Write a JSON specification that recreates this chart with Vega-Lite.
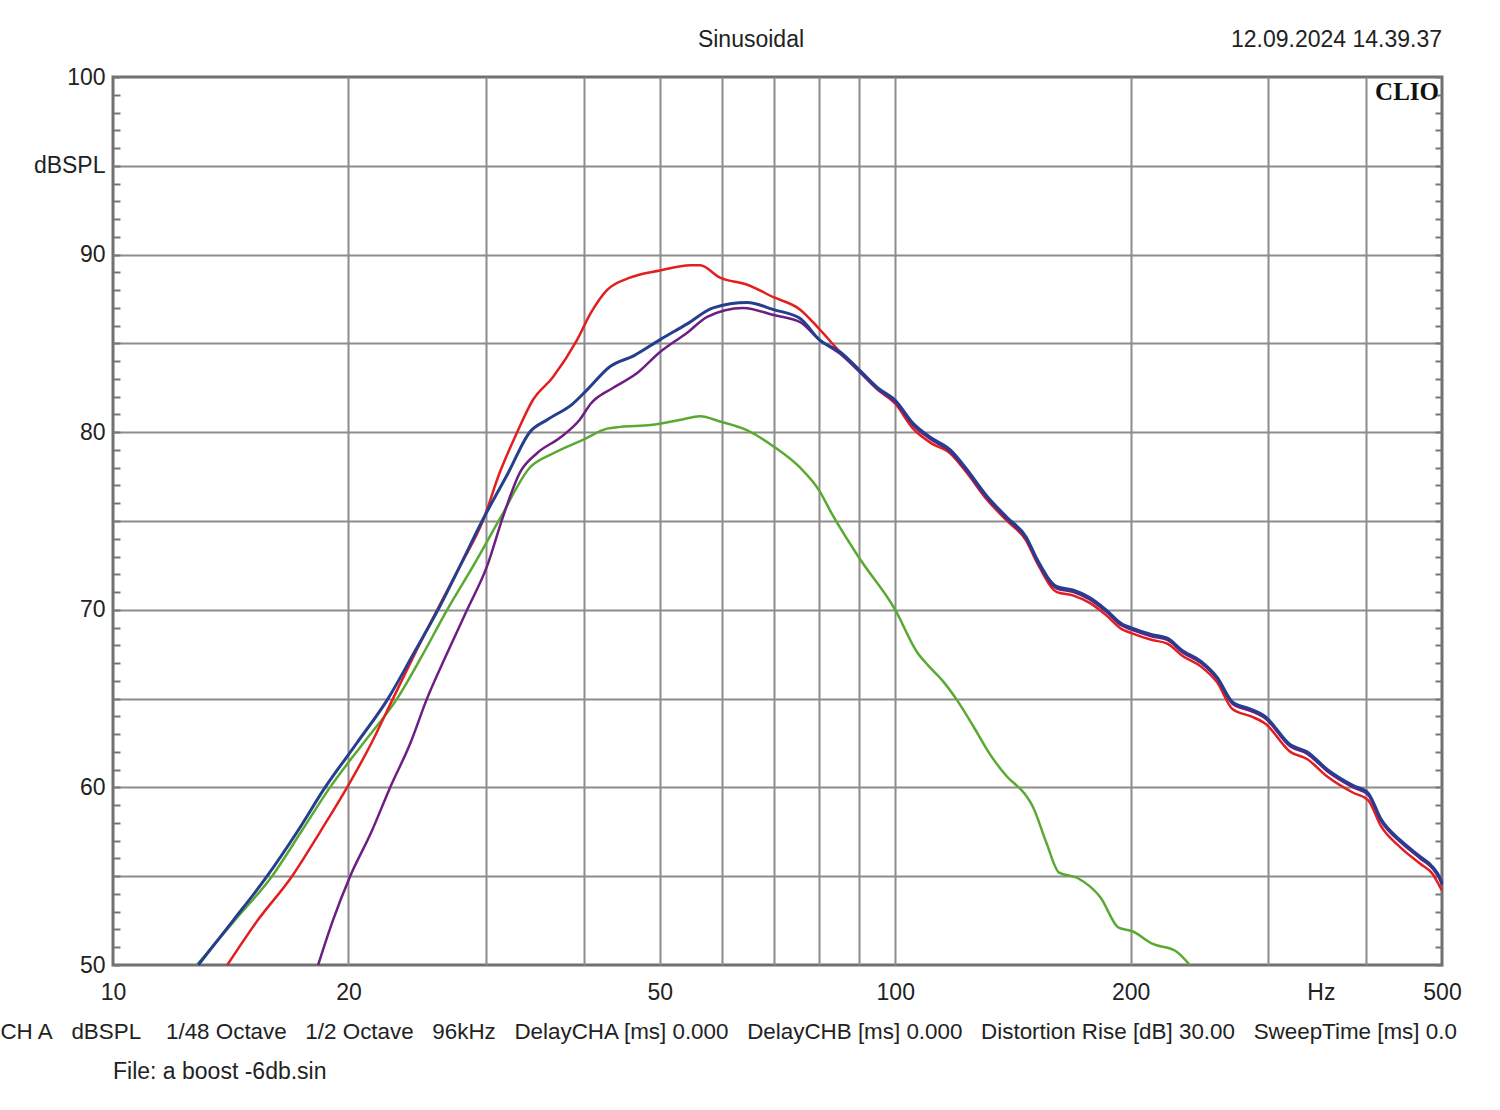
{
  "$schema": "https://vega.github.io/schema/vega-lite/v6.json",
  "width": 1329,
  "height": 888,
  "autosize": {"type": "none"},
  "padding": {"left": 113, "top": 77, "right": 58, "bottom": 145},
  "background": "white",
  "config": {
    "view": {"stroke": "#707070", "strokeWidth": 3},
    "font": "Liberation Sans"
  },
  "datasets": {
    "curves": [
      {"series": "green", "f": 12.8, "spl": 50}, {"series": "green", "f": 14.3, "spl": 52.5}, {"series": "green", "f": 15.97, "spl": 55}, {"series": "green", "f": 17.4, "spl": 57.5}, {"series": "green", "f": 18.94, "spl": 60}, {"series": "green", "f": 20.9, "spl": 62.5}, {"series": "green", "f": 23.08, "spl": 65}, {"series": "green", "f": 24.9, "spl": 67.5}, {"series": "green", "f": 26.74, "spl": 70}, {"series": "green", "f": 28.9, "spl": 72.5}, {"series": "green", "f": 31.3, "spl": 75.2}, {"series": "green", "f": 34.1, "spl": 78.0}, {"series": "green", "f": 36.5, "spl": 78.8}, {"series": "green", "f": 40, "spl": 79.6}, {"series": "green", "f": 42.8, "spl": 80.2}, {"series": "green", "f": 44.5, "spl": 80.3}, {"series": "green", "f": 48.7, "spl": 80.4}, {"series": "green", "f": 53.2, "spl": 80.7}, {"series": "green", "f": 56.3, "spl": 80.9}, {"series": "green", "f": 59.7, "spl": 80.6}, {"series": "green", "f": 64.7, "spl": 80.1}, {"series": "green", "f": 69.9, "spl": 79.2}, {"series": "green", "f": 75.6, "spl": 78.0}, {"series": "green", "f": 80, "spl": 76.7}, {"series": "green", "f": 83, "spl": 75.4}, {"series": "green", "f": 90, "spl": 72.9}, {"series": "green", "f": 100, "spl": 70.0}, {"series": "green", "f": 106.7, "spl": 67.6}, {"series": "green", "f": 110, "spl": 66.9}, {"series": "green", "f": 115, "spl": 66.0}, {"series": "green", "f": 120, "spl": 64.9}, {"series": "green", "f": 126, "spl": 63.4}, {"series": "green", "f": 132, "spl": 61.9}, {"series": "green", "f": 139, "spl": 60.6}, {"series": "green", "f": 146, "spl": 59.7}, {"series": "green", "f": 150, "spl": 58.9}, {"series": "green", "f": 156, "spl": 56.9}, {"series": "green", "f": 162, "spl": 55.2}, {"series": "green", "f": 171, "spl": 54.9}, {"series": "green", "f": 183, "spl": 53.8}, {"series": "green", "f": 193, "spl": 52.1}, {"series": "green", "f": 201, "spl": 51.9}, {"series": "green", "f": 213, "spl": 51.2}, {"series": "green", "f": 228, "spl": 50.8}, {"series": "green", "f": 238, "spl": 50.0},

      {"series": "red", "f": 14.0, "spl": 50}, {"series": "red", "f": 15.3, "spl": 52.5}, {"series": "red", "f": 16.94, "spl": 55}, {"series": "red", "f": 18.4, "spl": 57.5}, {"series": "red", "f": 19.92, "spl": 60}, {"series": "red", "f": 21.4, "spl": 62.5}, {"series": "red", "f": 22.8, "spl": 65}, {"series": "red", "f": 24.3, "spl": 67.5}, {"series": "red", "f": 25.97, "spl": 70}, {"series": "red", "f": 27.8, "spl": 72.5}, {"series": "red", "f": 29.7, "spl": 75}, {"series": "red", "f": 31.2, "spl": 77.7}, {"series": "red", "f": 32.86, "spl": 80}, {"series": "red", "f": 34.4, "spl": 81.8}, {"series": "red", "f": 36.5, "spl": 83.1}, {"series": "red", "f": 39.2, "spl": 85.2}, {"series": "red", "f": 40.8, "spl": 86.7}, {"series": "red", "f": 42.8, "spl": 88.0}, {"series": "red", "f": 45.8, "spl": 88.7}, {"series": "red", "f": 50, "spl": 89.1}, {"series": "red", "f": 54.7, "spl": 89.4}, {"series": "red", "f": 56.3, "spl": 89.4}, {"series": "red", "f": 59.7, "spl": 88.7}, {"series": "red", "f": 64.7, "spl": 88.3}, {"series": "red", "f": 69.9, "spl": 87.6}, {"series": "red", "f": 75.6, "spl": 86.9}, {"series": "red", "f": 80, "spl": 85.8}, {"series": "red", "f": 85.1, "spl": 84.5}, {"series": "red", "f": 90, "spl": 83.5}, {"series": "red", "f": 95, "spl": 82.4}, {"series": "red", "f": 100, "spl": 81.6}, {"series": "red", "f": 105.4, "spl": 80.2}, {"series": "red", "f": 111, "spl": 79.4}, {"series": "red", "f": 117.6, "spl": 78.8}, {"series": "red", "f": 123, "spl": 77.8}, {"series": "red", "f": 131, "spl": 76.2}, {"series": "red", "f": 139, "spl": 75.0}, {"series": "red", "f": 147, "spl": 73.9}, {"series": "red", "f": 152, "spl": 72.6}, {"series": "red", "f": 161, "spl": 71.0}, {"series": "red", "f": 169, "spl": 70.8}, {"series": "red", "f": 177, "spl": 70.4}, {"series": "red", "f": 186, "spl": 69.7}, {"series": "red", "f": 195, "spl": 68.9}, {"series": "red", "f": 200, "spl": 68.7}, {"series": "red", "f": 213, "spl": 68.3}, {"series": "red", "f": 222.7, "spl": 68.1}, {"series": "red", "f": 233, "spl": 67.4}, {"series": "red", "f": 246, "spl": 66.8}, {"series": "red", "f": 258, "spl": 65.9}, {"series": "red", "f": 270, "spl": 64.4}, {"series": "red", "f": 285, "spl": 64.0}, {"series": "red", "f": 297, "spl": 63.6}, {"series": "red", "f": 320, "spl": 62.0}, {"series": "red", "f": 336, "spl": 61.6}, {"series": "red", "f": 357, "spl": 60.6}, {"series": "red", "f": 385, "spl": 59.7}, {"series": "red", "f": 402, "spl": 59.3}, {"series": "red", "f": 418, "spl": 57.8}, {"series": "red", "f": 443, "spl": 56.6}, {"series": "red", "f": 469, "spl": 55.7}, {"series": "red", "f": 487, "spl": 55.1}, {"series": "red", "f": 497, "spl": 54.4}, {"series": "red", "f": 500, "spl": 54.2},

      {"series": "purple", "f": 18.29, "spl": 50}, {"series": "purple", "f": 19.1, "spl": 52.5}, {"series": "purple", "f": 20.1, "spl": 55}, {"series": "purple", "f": 21.4, "spl": 57.5}, {"series": "purple", "f": 22.61, "spl": 60}, {"series": "purple", "f": 24.0, "spl": 62.5}, {"series": "purple", "f": 25.2, "spl": 65}, {"series": "purple", "f": 26.7, "spl": 67.5}, {"series": "purple", "f": 28.36, "spl": 70}, {"series": "purple", "f": 30.1, "spl": 72.5}, {"series": "purple", "f": 31.5, "spl": 75.2}, {"series": "purple", "f": 33.1, "spl": 77.7}, {"series": "purple", "f": 34.8, "spl": 78.8}, {"series": "purple", "f": 37.3, "spl": 79.7}, {"series": "purple", "f": 39.5, "spl": 80.7}, {"series": "purple", "f": 40.8, "spl": 81.6}, {"series": "purple", "f": 43.6, "spl": 82.5}, {"series": "purple", "f": 46.7, "spl": 83.3}, {"series": "purple", "f": 50, "spl": 84.5}, {"series": "purple", "f": 54.2, "spl": 85.6}, {"series": "purple", "f": 57.5, "spl": 86.5}, {"series": "purple", "f": 63.9, "spl": 87.0}, {"series": "purple", "f": 69.9, "spl": 86.6}, {"series": "purple", "f": 75.6, "spl": 86.2}, {"series": "purple", "f": 80, "spl": 85.2}, {"series": "purple", "f": 85.1, "spl": 84.4}, {"series": "purple", "f": 90, "spl": 83.4}, {"series": "purple", "f": 95, "spl": 82.4}, {"series": "purple", "f": 100, "spl": 81.7}, {"series": "purple", "f": 105.4, "spl": 80.4}, {"series": "purple", "f": 111, "spl": 79.6}, {"series": "purple", "f": 117.6, "spl": 78.9}, {"series": "purple", "f": 123, "spl": 77.9}, {"series": "purple", "f": 131, "spl": 76.3}, {"series": "purple", "f": 139, "spl": 75.1}, {"series": "purple", "f": 147, "spl": 74.0}, {"series": "purple", "f": 152, "spl": 72.7}, {"series": "purple", "f": 161, "spl": 71.2}, {"series": "purple", "f": 169, "spl": 71.0}, {"series": "purple", "f": 177, "spl": 70.6}, {"series": "purple", "f": 186, "spl": 69.9}, {"series": "purple", "f": 195, "spl": 69.1}, {"series": "purple", "f": 200, "spl": 68.9}, {"series": "purple", "f": 213, "spl": 68.5}, {"series": "purple", "f": 222.7, "spl": 68.3}, {"series": "purple", "f": 233, "spl": 67.6}, {"series": "purple", "f": 246, "spl": 67.0}, {"series": "purple", "f": 258, "spl": 66.1}, {"series": "purple", "f": 270, "spl": 64.7}, {"series": "purple", "f": 285, "spl": 64.3}, {"series": "purple", "f": 297, "spl": 63.9}, {"series": "purple", "f": 320, "spl": 62.3}, {"series": "purple", "f": 336, "spl": 61.9}, {"series": "purple", "f": 357, "spl": 60.9}, {"series": "purple", "f": 385, "spl": 60.0}, {"series": "purple", "f": 402, "spl": 59.6}, {"series": "purple", "f": 418, "spl": 58.1}, {"series": "purple", "f": 443, "spl": 56.9}, {"series": "purple", "f": 469, "spl": 56.0}, {"series": "purple", "f": 487, "spl": 55.4}, {"series": "purple", "f": 497, "spl": 54.8}, {"series": "purple", "f": 500, "spl": 54.5},

      {"series": "blue", "f": 12.85, "spl": 50}, {"series": "blue", "f": 14.24, "spl": 52.5}, {"series": "blue", "f": 15.74, "spl": 55}, {"series": "blue", "f": 17.2, "spl": 57.5}, {"series": "blue", "f": 18.67, "spl": 60}, {"series": "blue", "f": 20.5, "spl": 62.5}, {"series": "blue", "f": 22.47, "spl": 65}, {"series": "blue", "f": 24.2, "spl": 67.5}, {"series": "blue", "f": 26.03, "spl": 70}, {"series": "blue", "f": 27.8, "spl": 72.5}, {"series": "blue", "f": 29.64, "spl": 75}, {"series": "blue", "f": 32.0, "spl": 77.7}, {"series": "blue", "f": 34.1, "spl": 80}, {"series": "blue", "f": 35.9, "spl": 80.7}, {"series": "blue", "f": 38.7, "spl": 81.6}, {"series": "blue", "f": 40.4, "spl": 82.4}, {"series": "blue", "f": 43.2, "spl": 83.7}, {"series": "blue", "f": 46.3, "spl": 84.3}, {"series": "blue", "f": 50, "spl": 85.2}, {"series": "blue", "f": 54.2, "spl": 86.1}, {"series": "blue", "f": 58.5, "spl": 87.0}, {"series": "blue", "f": 64.7, "spl": 87.3}, {"series": "blue", "f": 69.9, "spl": 86.9}, {"series": "blue", "f": 75.6, "spl": 86.4}, {"series": "blue", "f": 80, "spl": 85.2}, {"series": "blue", "f": 85.1, "spl": 84.5}, {"series": "blue", "f": 90, "spl": 83.5}, {"series": "blue", "f": 95, "spl": 82.5}, {"series": "blue", "f": 100, "spl": 81.8}, {"series": "blue", "f": 105.4, "spl": 80.5}, {"series": "blue", "f": 111, "spl": 79.7}, {"series": "blue", "f": 117.6, "spl": 79.0}, {"series": "blue", "f": 123, "spl": 78.0}, {"series": "blue", "f": 131, "spl": 76.4}, {"series": "blue", "f": 139, "spl": 75.2}, {"series": "blue", "f": 147, "spl": 74.1}, {"series": "blue", "f": 152, "spl": 72.8}, {"series": "blue", "f": 161, "spl": 71.3}, {"series": "blue", "f": 169, "spl": 71.1}, {"series": "blue", "f": 177, "spl": 70.7}, {"series": "blue", "f": 186, "spl": 70.0}, {"series": "blue", "f": 195, "spl": 69.2}, {"series": "blue", "f": 200, "spl": 69.0}, {"series": "blue", "f": 213, "spl": 68.6}, {"series": "blue", "f": 222.7, "spl": 68.4}, {"series": "blue", "f": 233, "spl": 67.7}, {"series": "blue", "f": 246, "spl": 67.1}, {"series": "blue", "f": 258, "spl": 66.2}, {"series": "blue", "f": 270, "spl": 64.8}, {"series": "blue", "f": 285, "spl": 64.4}, {"series": "blue", "f": 297, "spl": 64.0}, {"series": "blue", "f": 320, "spl": 62.4}, {"series": "blue", "f": 336, "spl": 62.0}, {"series": "blue", "f": 357, "spl": 61.0}, {"series": "blue", "f": 385, "spl": 60.1}, {"series": "blue", "f": 402, "spl": 59.7}, {"series": "blue", "f": 418, "spl": 58.2}, {"series": "blue", "f": 443, "spl": 57.0}, {"series": "blue", "f": 469, "spl": 56.1}, {"series": "blue", "f": 487, "spl": 55.5}, {"series": "blue", "f": 497, "spl": 54.9}, {"series": "blue", "f": 500, "spl": 54.6}
    ]
  },
  "resolve": {"axis": {"x": "independent", "y": "independent"}},
  "layer": [
    {
      "data": {"name": "curves"},
      "transform": [{"filter": "datum.series === 'green'"}],
      "mark": {"type": "line", "stroke": "#5aaa32", "strokeWidth": 2.5, "interpolate": "monotone"},
      "encoding": {
        "x": {
          "field": "f", "type": "quantitative",
          "scale": {"type": "log", "domain": [10, 500], "nice": false},
          "axis": {
            "orient": "bottom",
            "values": [10, 20, 30, 40, 50, 60, 70, 80, 90, 100, 200, 300, 350, 400, 500],
            "title": null, "domain": false, "ticks": false, "tickSize": 0,
            "grid": true, "gridColor": "#8c8c8c", "gridWidth": 2,
            "gridOpacity": {"condition": {"test": "datum.value == 350 || datum.value == 10 || datum.value == 500", "value": 0}, "value": 1},
            "format": "d",
            "labelExpr": "indexof([10,20,50,100,200,500], datum.value) >= 0 ? datum.label : (datum.value == 350 ? 'Hz' : '')",
            "labelFlush": false, "labelOverlap": false, "labelBound": false,
            "labelFont": "Liberation Sans", "labelFontSize": 23, "labelColor": "#222222", "labelPadding": 16
          }
        },
        "y": {
          "field": "spl", "type": "quantitative",
          "scale": {"domain": [50, 100], "nice": false, "zero": false},
          "axis": {
            "orient": "left",
            "values": [50,51,52,53,54,55,56,57,58,59,60,61,62,63,64,65,66,67,68,69,70,71,72,73,74,75,76,77,78,79,80,81,82,83,84,85,86,87,88,89,90,91,92,93,94,95,96,97,98,99,100],
            "title": null, "domain": false,
            "grid": true, "gridColor": "#8c8c8c", "gridWidth": 2,
            "gridOpacity": {"condition": {"test": "datum.value % 5 == 0 && datum.value > 50 && datum.value < 100", "value": 1}, "value": 0},
            "ticks": true, "tickSize": -7, "tickColor": "#777777", "tickWidth": 2,
            "format": "d",
            "labelExpr": "datum.value == 95 ? 'dBSPL' : (datum.value % 10 == 0 ? datum.label : '')",
            "labelFlush": false, "labelOverlap": false, "labelBound": false,
            "labelFont": "Liberation Sans", "labelFontSize": 23, "labelColor": "#222222", "labelPadding": 15
          }
        }
      }
    },
    {
      "data": {"name": "curves"},
      "transform": [{"filter": "datum.series === 'red'"}],
      "mark": {"type": "line", "stroke": "#e41e1e", "strokeWidth": 2.5, "interpolate": "monotone"},
      "encoding": {
        "x": {"field": "f", "type": "quantitative", "scale": {"type": "log", "domain": [10, 500], "nice": false}, "axis": null},
        "y": {"field": "spl", "type": "quantitative", "scale": {"domain": [50, 100], "nice": false, "zero": false}, "axis": null}
      }
    },
    {
      "data": {"name": "curves"},
      "transform": [{"filter": "datum.series === 'purple'"}],
      "mark": {"type": "line", "stroke": "#6e1e82", "strokeWidth": 2.5, "interpolate": "monotone"},
      "encoding": {
        "x": {"field": "f", "type": "quantitative", "scale": {"type": "log", "domain": [10, 500], "nice": false}, "axis": null},
        "y": {"field": "spl", "type": "quantitative", "scale": {"domain": [50, 100], "nice": false, "zero": false}, "axis": null}
      }
    },
    {
      "data": {"name": "curves"},
      "transform": [{"filter": "datum.series === 'blue'"}],
      "mark": {"type": "line", "stroke": "#253f8e", "strokeWidth": 3, "interpolate": "monotone"},
      "encoding": {
        "x": {"field": "f", "type": "quantitative", "scale": {"type": "log", "domain": [10, 500], "nice": false}, "axis": null},
        "y": {
          "field": "spl", "type": "quantitative",
          "scale": {"domain": [50, 100], "nice": false, "zero": false},
          "axis": {
            "orient": "right",
            "values": [50,51,52,53,54,55,56,57,58,59,60,61,62,63,64,65,66,67,68,69,70,71,72,73,74,75,76,77,78,79,80,81,82,83,84,85,86,87,88,89,90,91,92,93,94,95,96,97,98,99,100],
            "title": null, "domain": false, "grid": false, "labels": false,
            "ticks": true, "tickSize": -7, "tickColor": "#777777", "tickWidth": 2
          }
        }
      }
    },
    {
      "data": {"values": [{"label": "Sinusoidal"}]},
      "mark": {"type": "text", "align": "center", "baseline": "middle", "font": "Liberation Sans", "fontSize": 23, "color": "#222222"},
      "encoding": {
        "x": {"datum": 65.4, "type": "quantitative", "scale": {"type": "log", "domain": [10, 500], "nice": false}, "axis": null},
        "y": {"datum": 102.1, "type": "quantitative", "scale": {"domain": [50, 100], "nice": false, "zero": false}, "axis": null},
        "text": {"field": "label"}
      }
    },
    {
      "data": {"values": [{"label": "12.09.2024 14.39.37"}]},
      "mark": {"type": "text", "align": "right", "baseline": "middle", "font": "Liberation Sans", "fontSize": 23, "color": "#222222"},
      "encoding": {
        "x": {"datum": 500, "type": "quantitative", "scale": {"type": "log", "domain": [10, 500], "nice": false}, "axis": null},
        "y": {"datum": 102.1, "type": "quantitative", "scale": {"domain": [50, 100], "nice": false, "zero": false}, "axis": null},
        "text": {"field": "label"}
      }
    },
    {
      "data": {"values": [{"label": "CLIO"}]},
      "mark": {"type": "text", "align": "right", "baseline": "top", "dx": -3, "dy": 3, "font": "Liberation Serif", "fontWeight": "bold", "fontSize": 25, "color": "#111111"},
      "encoding": {
        "x": {"datum": 500, "type": "quantitative", "scale": {"type": "log", "domain": [10, 500], "nice": false}, "axis": null},
        "y": {"datum": 100, "type": "quantitative", "scale": {"domain": [50, 100], "nice": false, "zero": false}, "axis": null},
        "text": {"field": "label"}
      }
    },
    {
      "data": {"values": [{"label": "CH A\u00a0\u00a0\u00a0dBSPL\u00a0\u00a0\u00a0\u00a01/48 Octave\u00a0\u00a0\u00a01/2 Octave\u00a0\u00a0\u00a096kHz\u00a0\u00a0\u00a0DelayCHA [ms] 0.000\u00a0\u00a0\u00a0DelayCHB [ms] 0.000\u00a0\u00a0\u00a0Distortion Rise [dB] 30.00\u00a0\u00a0\u00a0SweepTime [ms] 0.0"}]},
      "mark": {"type": "text", "align": "left", "baseline": "middle", "font": "Liberation Sans", "fontSize": 22.4, "color": "#222222"},
      "encoding": {
        "x": {"datum": 7.18, "type": "quantitative", "scale": {"type": "log", "domain": [10, 500], "nice": false}, "axis": null},
        "y": {"datum": 46.23, "type": "quantitative", "scale": {"domain": [50, 100], "nice": false, "zero": false}, "axis": null},
        "text": {"field": "label"}
      }
    },
    {
      "data": {"values": [{"label": "File: a boost -6db.sin"}]},
      "mark": {"type": "text", "align": "left", "baseline": "middle", "font": "Liberation Sans", "fontSize": 23, "color": "#222222"},
      "encoding": {
        "x": {"datum": 10, "type": "quantitative", "scale": {"type": "log", "domain": [10, 500], "nice": false}, "axis": null},
        "y": {"datum": 43.97, "type": "quantitative", "scale": {"domain": [50, 100], "nice": false, "zero": false}, "axis": null},
        "text": {"field": "label"}
      }
    }
  ]
}
